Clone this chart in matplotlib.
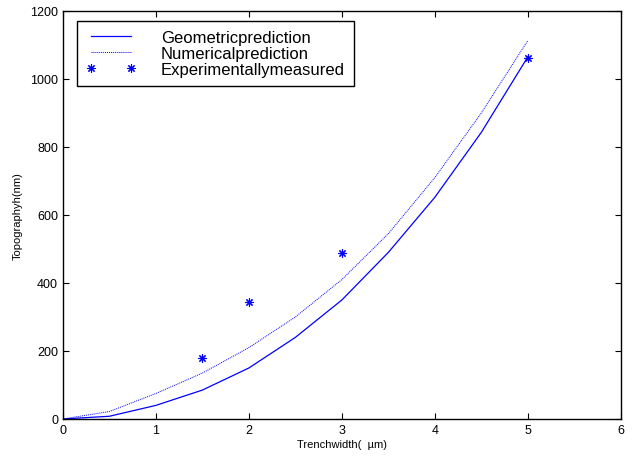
import matplotlib.pyplot as plt

plt.rcParams['font.family'] = ['Liberation Sans', 'DejaVu Sans']

width = [0, 0.5, 1, 1.5, 2, 2.5, 3, 3.5, 4, 4.5, 5]
geometric = [0, 8, 40, 85, 150, 240, 350, 490, 652, 843, 1065]
numerical = [0, 22, 75, 135, 210, 300, 410, 545, 710, 900, 1113]

exp_width = [1.5, 2, 3, 5]
exp_height = [178, 343, 488, 1062]

fig = plt.figure(figsize=(6.42, 4.6), dpi=100)
ax = fig.add_axes([0.098, 0.087, 0.869, 0.887])

ax.plot(width, geometric, color='#0000ff', lw=0.9, label='Geometricprediction')
ax.plot(width, numerical, color='#0000ff', lw=0.7, linestyle=(0, (1, 1)), label='Numericalprediction')
ax.plot(exp_width, exp_height, linestyle='none', marker=(8, 2, 0), color='#0000ff',
        markersize=6, markeredgewidth=0.8, label='Experimentallymeasured')

ax.set_xlim(0, 6)
ax.set_ylim(0, 1200)
ax.set_xticks(range(0, 7))
ax.set_yticks(range(0, 1201, 200))
ax.tick_params(direction='in', top=True, right=True, labelsize=9, length=4, width=0.8)
for s in ax.spines.values():
    s.set_linewidth(1.0)

ax.set_xlabel('Trenchwidth(  \u00b5m)', fontsize=8, labelpad=2)
ax.set_ylabel('Topographyh(nm)', fontsize=8, labelpad=5)

leg = ax.legend(loc='upper left', bbox_to_anchor=(0.025, 0.975), borderaxespad=0,
                fontsize=12, numpoints=2, handlelength=3.0, handletextpad=1.5,
                labelspacing=0.05, borderpad=0.55, fancybox=False, framealpha=1,
                edgecolor='black')
leg.get_frame().set_linewidth(1.0)

fig.savefig('out.png', dpi=100)
